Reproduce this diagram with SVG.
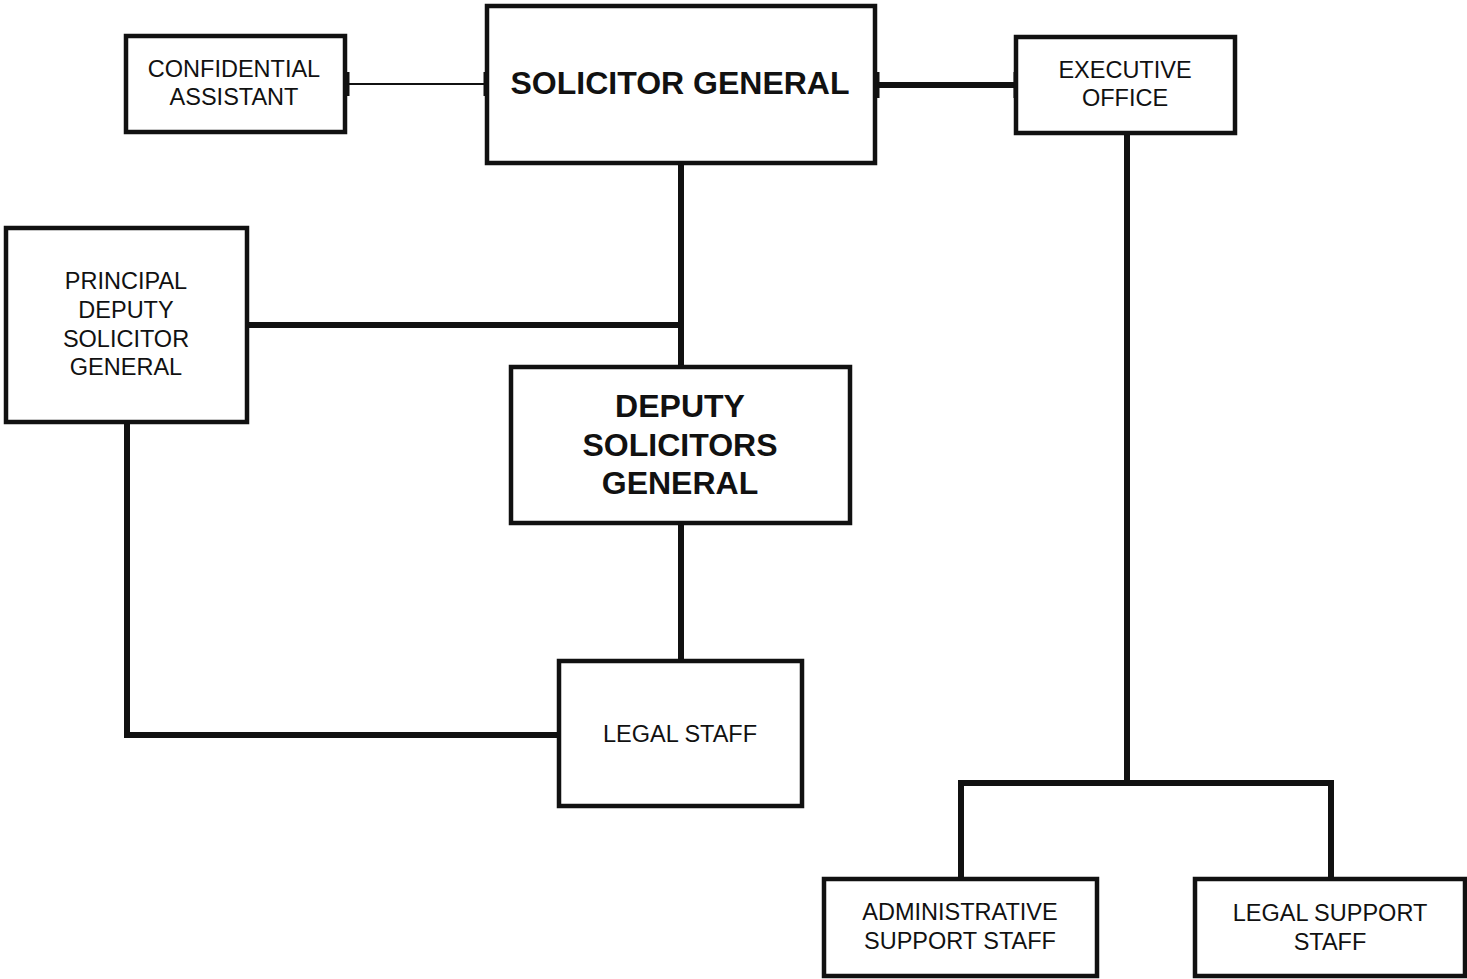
<svg xmlns="http://www.w3.org/2000/svg" width="1467" height="979" viewBox="0 0 1467 979">
<style>
.box{fill:#fff;stroke:#111;stroke-width:4.5}
.t{font-family:"Liberation Sans",Arial,sans-serif;font-size:23.5px;fill:#111;text-anchor:middle}
.b{font-family:"Liberation Sans",Arial,sans-serif;font-size:32px;font-weight:bold;fill:#111;text-anchor:middle}
.c{fill:none;stroke:#111;stroke-width:6}
.thin{fill:none;stroke:#111;stroke-width:2.2}
.tick{fill:none;stroke:#111;stroke-width:5}
</style>
<rect width="1467" height="979" fill="#fff"/>
<g id="connectors">
<line class="thin" x1="345" y1="84" x2="487" y2="84"/>
<line class="tick" x1="347" y1="72" x2="347" y2="96"/>
<line class="tick" x1="486" y1="72" x2="486" y2="96"/>
<line class="c" x1="875" y1="85" x2="1016" y2="85"/>
<line class="tick" x1="877" y1="72" x2="877" y2="98"/>
<line class="tick" x1="1016" y1="72" x2="1016" y2="98"/>
<line class="c" x1="681" y1="163" x2="681" y2="367"/>
<line class="c" x1="247" y1="325" x2="681" y2="325"/>
<line class="c" x1="681" y1="523" x2="681" y2="661"/>
<polyline class="c" points="127,422 127,735 559,735"/>
<line class="c" x1="1127" y1="133" x2="1127" y2="783"/>
<polyline class="c" points="961,879 961,783 1331,783 1331,879"/>
</g>
<g id="confidential-assistant">
<rect class="box" x="126" y="36" width="219" height="96"/>
<text class="t" x="234" y="77">CONFIDENTIAL</text>
<text class="t" x="234" y="105">ASSISTANT</text>
</g>
<g id="solicitor-general">
<rect class="box" x="487" y="6" width="388" height="157"/>
<text class="b" x="680" y="94">SOLICITOR GENERAL</text>
</g>
<g id="executive-office">
<rect class="box" x="1016" y="37" width="219" height="96"/>
<text class="t" x="1125" y="78">EXECUTIVE</text>
<text class="t" x="1125" y="106">OFFICE</text>
</g>
<g id="principal-deputy">
<rect class="box" x="6" y="228" width="241" height="194"/>
<text class="t" x="126" y="289">PRINCIPAL</text>
<text class="t" x="126" y="318">DEPUTY</text>
<text class="t" x="126" y="347">SOLICITOR</text>
<text class="t" x="126" y="375">GENERAL</text>
</g>
<g id="deputy-solicitors-general">
<rect class="box" x="511" y="367" width="339" height="156"/>
<text class="b" x="680" y="417">DEPUTY</text>
<text class="b" x="680" y="456">SOLICITORS</text>
<text class="b" x="680" y="494">GENERAL</text>
</g>
<g id="legal-staff">
<rect class="box" x="559" y="661" width="243" height="145"/>
<text class="t" x="680" y="742">LEGAL STAFF</text>
</g>
<g id="administrative-support-staff">
<rect class="box" x="824" y="879" width="273" height="97"/>
<text class="t" x="960" y="920">ADMINISTRATIVE</text>
<text class="t" x="960" y="949">SUPPORT STAFF</text>
</g>
<g id="legal-support-staff">
<rect class="box" x="1195" y="879" width="270" height="97"/>
<text class="t" x="1330" y="921">LEGAL SUPPORT</text>
<text class="t" x="1330" y="950">STAFF</text>
</g>
</svg>
